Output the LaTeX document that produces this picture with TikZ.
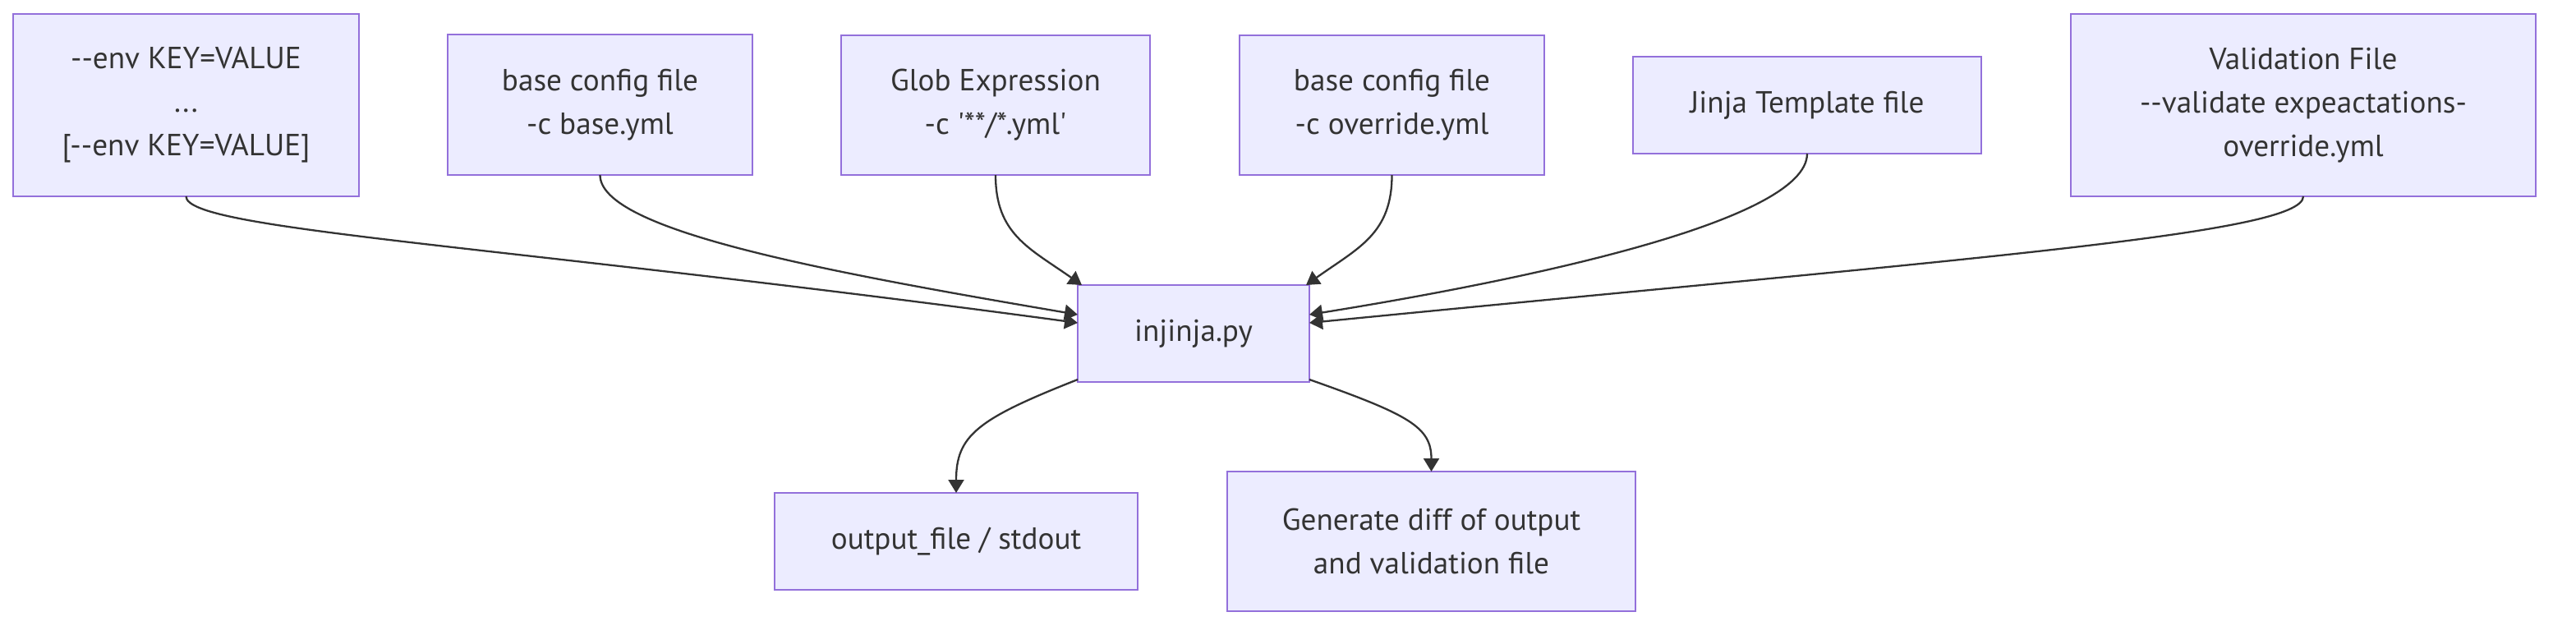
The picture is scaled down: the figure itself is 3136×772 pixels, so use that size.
\documentclass[tikz,border=0pt]{standalone}
\usepackage{fontspec}
\setmainfont{PT Sans}[Ligatures=TeXOff]
\usetikzlibrary{arrows.meta,calc}
\definecolor{nodefill}{HTML}{ECECFF}
\definecolor{nodeborder}{HTML}{9370DB}
\definecolor{ink}{HTML}{333333}
\begin{document}
\begin{tikzpicture}[x=0.5pt,y=-0.5pt,
  box/.style={draw=nodeborder, fill=nodefill, line width=1pt, text=ink, align=center,
    font=\fontsize{18.6}{26.5}\selectfont, inner sep=0pt, outer sep=0pt},
  link/.style={draw=ink, line width=1.15pt, -{Triangle[length=8pt,width=9.5pt]}}]
\useasboundingbox (0,0) rectangle (3136,772);
\node[box, minimum width=210.5pt, minimum height=111pt] (env) at (226.5,128)
  {-{}-env KEY=VALUE\\...\\{[}-{}-env KEY=VALUE{]}};
\node[box, minimum width=185.5pt, minimum height=85.5pt] (base) at (730.5,127.5)
  {base config file\\-c base.yml};
\node[box, minimum width=188pt, minimum height=85pt] (glob) at (1212,128)
  {Glob Expression\\-c '**/*.yml'};
\node[box, minimum width=185.5pt, minimum height=85pt] (over) at (1694.5,128)
  {base config file\\-c override.yml};
\node[box, minimum width=212pt, minimum height=59pt] (jinja) at (2200,128)
  {Jinja Template file};
\node[box, minimum width=283pt, minimum height=111pt] (valid) at (2804,128)
  {Validation File\\-{}-validate expeactations-\\override.yml};
\node[box, minimum width=141pt, minimum height=59pt] (inj) at (1453,406)
  {injinja.py};
\node[box, minimum width=221pt, minimum height=59pt] (out) at (1164,659)
  {output\_file / stdout};
\node[box, minimum width=248.5pt, minimum height=85pt] (diff) at (1742.5,659)
  {Generate diff of output\\and validation file};

\draw[link] (env.south) .. controls (226.5,280) and (600,297) .. ($(inj.west)+(0,-13)$);
\draw[link] (base.south) .. controls (730.5,280) and (1000,330) .. ($(inj.west)+(0,-23)$);
\draw[link] (glob.south) .. controls (1212,285) and (1253,302) .. ($(inj.north west)+(5,0)$);
\draw[link] (over.south) .. controls (1694.5,285) and (1653,302) .. ($(inj.north east)+(-4,0)$);
\draw[link] (jinja.south) .. controls (2200,270) and (1850,342) .. ($(inj.east)+(0,-23)$);
\draw[link] (valid.south) .. controls (2804,285) and (2400,314) .. ($(inj.east)+(0,-13)$);
\draw[link] ($(inj.south west)+(0,-3)$) .. controls (1190,510) and (1164,530) .. (out.north);
\draw[link] ($(inj.south east)+(0,-3)$) .. controls (1716,505) and (1742.5,520) .. (diff.north);
\end{tikzpicture}
\end{document}
